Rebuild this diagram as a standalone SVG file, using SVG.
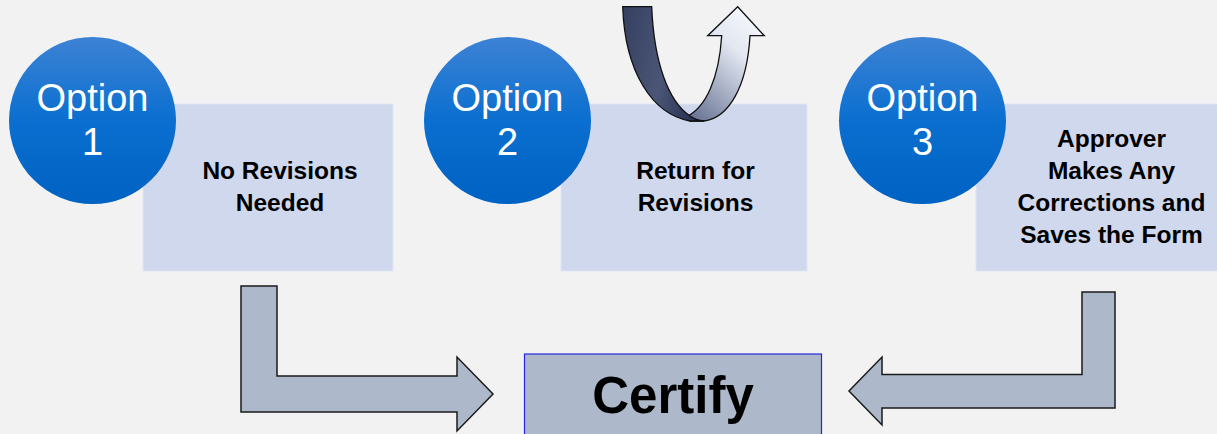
<svg xmlns="http://www.w3.org/2000/svg" width="1217" height="434" viewBox="0 0 1217 434">
  <defs>
    <linearGradient id="gCircle" x1="0" y1="0" x2="0" y2="1">
      <stop offset="0" stop-color="#3d82d4"/>
      <stop offset="0.5" stop-color="#0a6fd0"/>
      <stop offset="1" stop-color="#0062c2"/>
    </linearGradient>
    <linearGradient id="gDark" x1="0" y1="0" x2="1" y2="0.3">
      <stop offset="0" stop-color="#354061"/>
      <stop offset="0.6" stop-color="#4b5677"/>
      <stop offset="1" stop-color="#2c3656"/>
    </linearGradient>
    <linearGradient id="gLight" x1="0.8" y1="0" x2="0.2" y2="1">
      <stop offset="0" stop-color="#f6f8fc"/>
      <stop offset="0.35" stop-color="#e2e7f1"/>
      <stop offset="1" stop-color="#6f7a99"/>
    </linearGradient>
    <style>
      .box { fill: #cfd8ec; stroke: #dfe5f2; stroke-width: 1; }
      .circle { fill: url(#gCircle); }
      .opt { font-family: "Liberation Sans", Arial, sans-serif; font-size: 38px; fill: #ffffff; text-anchor: middle; }
      .lbl { font-family: "Liberation Sans", Arial, sans-serif; font-size: 24.5px; font-weight: bold; fill: #000000; text-anchor: middle; }
      .bent { fill: #adb9ca; stroke: #1a1a1a; stroke-width: 1.5; stroke-linejoin: miter; }
      .certify { fill: #adb8ca; stroke: #2626dc; stroke-width: 1.2; }
      .big { font-family: "Liberation Sans", Arial, sans-serif; font-size: 51px; font-weight: bold; fill: #000000; text-anchor: middle; }
      .uturn { stroke: #111111; stroke-width: 1.3; stroke-linejoin: miter; }
    </style>
  </defs>

  <rect x="0" y="0" width="1217" height="434" fill="#f2f2f2"/>

  <!-- Option 1 -->
  <g id="option1">
    <rect class="box" x="143" y="104" width="250" height="167"/>
    <circle class="circle" cx="92.5" cy="120.5" r="83.5"/>
    <text class="opt" x="92.5" y="111">Option</text>
    <text class="opt" x="92.5" y="155">1</text>
    <text class="lbl" x="280" y="179">No Revisions</text>
    <text class="lbl" x="280" y="211">Needed</text>
  </g>

  <!-- Option 2 -->
  <g id="option2">
    <rect class="box" x="561" y="104" width="246" height="167"/>
    <circle class="circle" cx="507.5" cy="120.5" r="83.5"/>
    <text class="opt" x="507.5" y="111">Option</text>
    <text class="opt" x="507.5" y="155">2</text>
    <text class="lbl" x="695.5" y="179">Return for</text>
    <text class="lbl" x="695.5" y="211">Revisions</text>
  </g>

  <!-- U-turn arrow above Option 2 -->
  <g id="uturn">
    <path class="uturn" fill="url(#gLight)" d="M 686,117 C 706,108 719,78 721.7,35.7 L 707.7,35.7 L 737.7,6.7 L 764.3,35.7 L 750,35.7 C 747,88 728,118 704,121 L 690,121 Z"/>
    <path class="uturn" fill="url(#gDark)" d="M 622.7,6.7 L 651.7,6.7 C 654,62 668,101 690,116 C 694,119 699,120.5 704,121 L 690,121 C 652,114 625,72 622.7,6.7 Z"/>
  </g>

  <!-- Option 3 -->
  <g id="option3">
    <rect class="box" x="976" y="104" width="245" height="167"/>
    <circle class="circle" cx="922.5" cy="120.5" r="83.5"/>
    <text class="opt" x="922.5" y="111">Option</text>
    <text class="opt" x="922.5" y="155">3</text>
    <text class="lbl" x="1111.5" y="147">Approver</text>
    <text class="lbl" x="1111.5" y="179">Makes Any</text>
    <text class="lbl" x="1111.5" y="211">Corrections and</text>
    <text class="lbl" x="1111.5" y="243">Saves the Form</text>
  </g>

  <!-- Certify -->
  <g id="certify">
    <rect class="certify" x="524.5" y="354" width="297" height="85"/>
    <text class="big" x="673" y="413">Certify</text>
  </g>

  <!-- Bent arrows into Certify -->
  <g id="connectors">
    <path class="bent" d="M 241,286 L 277,286 L 277,376 L 457,376 L 457,357 L 493,394 L 457,431 L 457,412 L 241,412 Z"/>
    <path class="bent" d="M 1115,292 L 1082,292 L 1082,374.5 L 882,374.5 L 882,357 L 849,391 L 882,425 L 882,408 L 1115,408 Z"/>
  </g>
</svg>
